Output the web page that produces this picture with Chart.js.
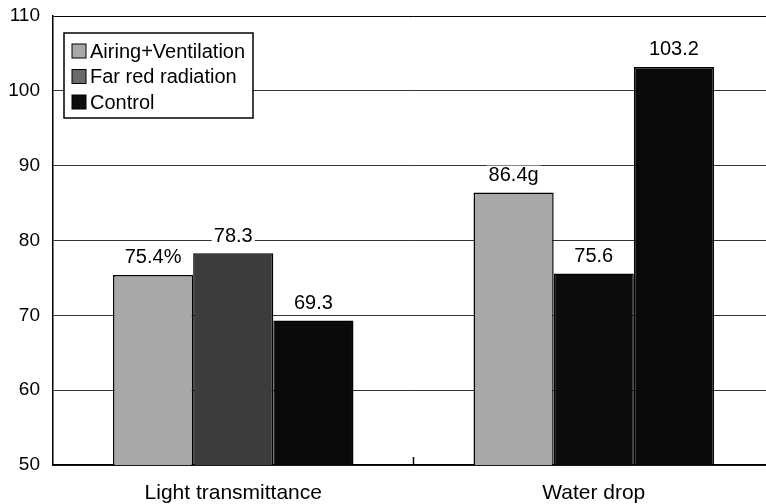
<!DOCTYPE html>
<html>
<head>
<meta charset="utf-8">
<script src="https://cdn.jsdelivr.net/npm/chart.js@4/dist/chart.umd.min.js"></script>
<style>
html,body{margin:0;padding:0;background:#fff;overflow:hidden;}
#wrap{width:774px;height:504px;}
</style>
</head>
<body>
<div id="wrap"><canvas id="c" width="774" height="504"></canvas></div>
<script>
const categories = ['Light transmittance', 'Water drop'];
const seriesNames = ['Airing+Ventilation', 'Far red radiation', 'Control'];
const airingValues = [75.4, 86.4];
const farRedValues = [78.3, 75.6];
const controlValues = [69.3, 103.2];
const airingLabels = ['75.4%', '86.4g'];
const farRedLabels = ['78.3', '75.6'];
const controlLabels = ['69.3', '103.2'];
const yTicks = [50, 60, 70, 80, 90, 100, 110];

const FONT = '"Liberation Sans", Arial, sans-serif';
const legendColors = ['#a8a8a8', '#6a6a6a', '#0d0d0d'];

const valueLabelPlugin = {
  id: 'valueLabels',
  afterDatasetsDraw(chart) {
    const ctx = chart.ctx;
    ctx.save();
    ctx.font = '20px ' + FONT;
    ctx.textAlign = 'center';
    ctx.textBaseline = 'middle';
    chart.data.datasets.forEach((ds, di) => {
      const meta = chart.getDatasetMeta(di);
      meta.data.forEach((el, i) => {
        const txt = ds.valueLabels[i];
        const y = el.y - 17;
        const w = ctx.measureText(txt).width;
        ctx.fillStyle = '#fff';
        ctx.fillRect(el.x - w / 2 - 2, y - 10, w + 4, 20);
        ctx.fillStyle = '#000';
        ctx.fillText(txt, el.x, y);
      });
    });
    ctx.restore();
  }
};

const boxLegendPlugin = {
  id: 'boxLegend',
  afterDraw(chart) {
    const ctx = chart.ctx;
    const area = chart.chartArea;
    const x0 = area.left + 11, y0 = area.top + 17;
    const rowH = 25.5;
    ctx.save();
    ctx.font = '20px ' + FONT;
    const boxW = 189, boxH = 85;
    ctx.fillStyle = '#fff';
    ctx.fillRect(x0, y0, boxW, boxH);
    ctx.strokeStyle = '#000';
    ctx.lineWidth = 1.5;
    ctx.strokeRect(x0, y0, boxW, boxH);
    ctx.textBaseline = 'middle';
    chart.data.datasets.forEach((ds, i) => {
      const cy = y0 + 18 + i * rowH;
      ctx.fillStyle = legendColors[i];
      ctx.fillRect(x0 + 8, cy - 7, 14, 14);
      ctx.lineWidth = 1;
      ctx.strokeStyle = '#000';
      ctx.strokeRect(x0 + 8, cy - 7, 14, 14);
      ctx.fillStyle = '#000';
      ctx.fillText(ds.label, x0 + 26, cy + 1);
    });
    // category boundary tick
    const xs = chart.scales.x;
    const bx = (xs.getPixelForValue(0) + xs.getPixelForValue(1)) / 2;
    ctx.beginPath();
    ctx.strokeStyle = '#000';
    ctx.lineWidth = 1.5;
    ctx.moveTo(bx, area.bottom);
    ctx.lineTo(bx, area.bottom - 8);
    ctx.stroke();
    ctx.restore();
  }
};

new Chart(document.getElementById('c'), {
  type: 'bar',
  data: {
    labels: categories,
    datasets: [
      { label: seriesNames[0], data: airingValues, valueLabels: airingLabels,
        backgroundColor: '#a8a8a8', borderColor: '#000', borderWidth: 1.5 },
      { label: seriesNames[1], data: farRedValues, valueLabels: farRedLabels,
        backgroundColor: ['#3c3c3c', '#0d0d0d'], borderColor: '#000', borderWidth: 1.5 },
      { label: seriesNames[2], data: controlValues, valueLabels: controlLabels,
        backgroundColor: '#0a0a0a', borderColor: '#000', borderWidth: 1.5 }
    ]
  },
  options: {
    responsive: false,
    animation: false,
    layout: { padding: { top: 16, left: 0, right: 0, bottom: 0 } },
    plugins: { legend: { display: false }, tooltip: { enabled: false } },
    datasets: { bar: { categoryPercentage: 0.667, barPercentage: 1.0 } },
    scales: {
      x: {
        grid: { display: false },
        border: { display: true, color: '#000', width: 1.5 },
        ticks: { color: '#000', font: { family: FONT, size: 21 }, padding: 8, maxRotation: 0 },
        afterFit(scale) { scale.height = 39; }
      },
      y: {
        min: 50, max: 110,
        afterBuildTicks(scale) { scale.ticks = yTicks.map(v => ({ value: v })); },
        grid: { color: (c) => c.tick && c.tick.value === 110 ? '#000' : '#333', lineWidth: 1, drawTicks: false },
        border: { display: true, color: '#000', width: 1.5 },
        ticks: { color: '#000', font: { family: FONT, size: 19 }, padding: 13 },
        afterFit(scale) { scale.width = 53; scale.paddingTop = 0; scale.paddingBottom = 0; }
      }
    }
  },
  plugins: [valueLabelPlugin, boxLegendPlugin]
});
</script>
</body>
</html>
